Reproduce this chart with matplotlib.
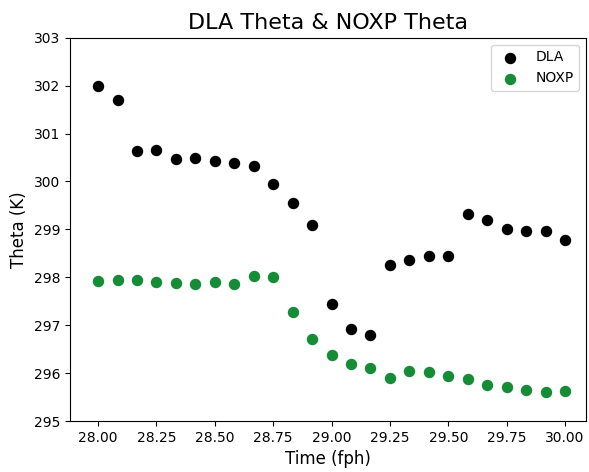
import numpy as np
import matplotlib
matplotlib.use("Agg")
import matplotlib.pyplot as plt

# time in fractional hours
time_fph = np.arange(25) / 12 + 28.0

dla_theta = [302.00, 301.70, 300.63, 300.65, 300.47, 300.48, 300.42, 300.38, 300.33,
             299.95, 299.55, 299.10, 297.45, 296.93, 296.80, 298.25, 298.36, 298.44,
             298.45, 299.32, 299.20, 299.00, 298.96, 298.97, 298.78]

noxp_theta = [297.93, 297.94, 297.94, 297.91, 297.88, 297.86, 297.91, 297.87, 298.02,
              298.01, 297.28, 296.72, 296.38, 296.20, 296.10, 295.90, 296.04, 296.02,
              295.95, 295.88, 295.76, 295.72, 295.65, 295.60, 295.62]

fig = plt.figure(figsize=(5.89, 4.72), dpi=100)
ax = fig.add_axes([0.119, 0.108, 0.876, 0.812])

ax.scatter(time_fph, dla_theta, color='black', s=52, label='DLA', zorder=3)
ax.scatter(time_fph, noxp_theta, color='#178c37', s=52, label='NOXP', zorder=3)

ax.set_xlim(27.88, 30.09)
ax.set_ylim(295, 303)
ax.set_xticks([28.0, 28.25, 28.5, 28.75, 29.0, 29.25, 29.5, 29.75, 30.0])
ax.set_xticklabels(['28.00', '28.25', '28.50', '28.75', '29.00', '29.25', '29.50', '29.75', '30.00'])
ax.tick_params(labelsize=10)

ax.set_title('DLA Theta & NOXP Theta', fontsize=16)
ax.set_xlabel('Time (fph)', fontsize=12)
ax.set_ylabel('Theta (K)', fontsize=12)
ax.legend(loc='upper right', fontsize=10)

fig.savefig('out.png', dpi=100)
